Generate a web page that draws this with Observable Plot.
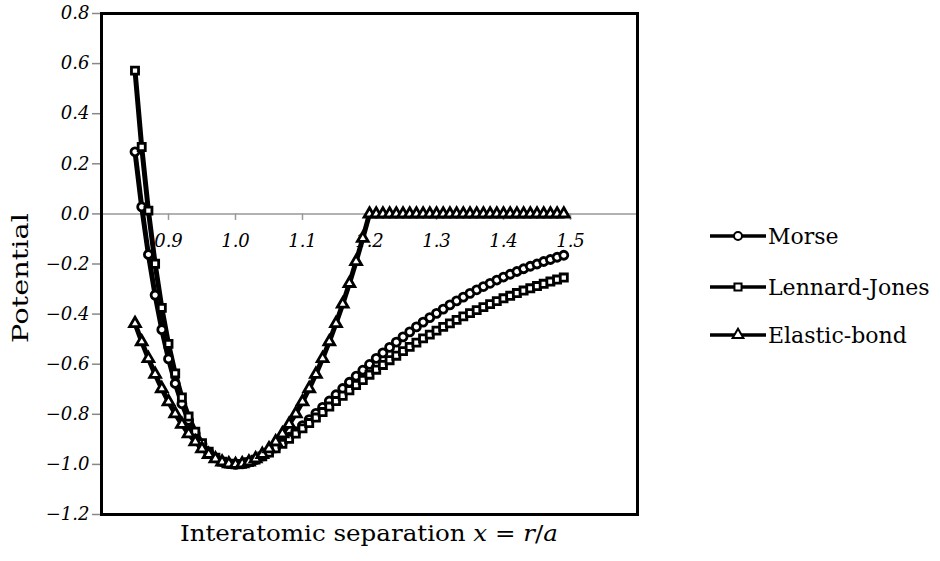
<!DOCTYPE html>
<html><head><meta charset="utf-8">
<script src="https://cdn.jsdelivr.net/npm/d3@7"></script>
<script src="https://cdn.jsdelivr.net/npm/@observablehq/plot@0.6"></script>
<style>body{margin:0;background:#fff} svg text{font-family:"DejaVu Serif", serif;}</style>
</head><body><div id="chart"></div>
<script>
const xValues = [0.85,0.86,0.87,0.88,0.89,0.90,0.91,0.92,0.93,0.94,0.95,0.96,0.97,0.98,0.99,1.00,
  1.01,1.02,1.03,1.04,1.05,1.06,1.07,1.08,1.09,1.10,1.11,1.12,1.13,1.14,1.15,1.16,1.17,1.18,1.19,1.20,
  1.21,1.22,1.23,1.24,1.25,1.26,1.27,1.28,1.29,1.30,1.31,1.32,1.33,1.34,1.35,1.36,1.37,1.38,1.39,1.40,
  1.41,1.42,1.43,1.44,1.45,1.46,1.47,1.48,1.49];
const morse = [0.248,0.028,-0.162,-0.324,-0.462,-0.579,-0.677,-0.758,-0.824,-0.878,-0.919,-0.951,-0.974,-0.989,-0.997,-1.000,
  -0.998,-0.991,-0.981,-0.967,-0.951,-0.933,-0.913,-0.891,-0.869,-0.845,-0.821,-0.796,-0.772,-0.747,-0.722,
  -0.697,-0.672,-0.648,-0.624,-0.601,-0.577,-0.555,-0.533,-0.512,-0.491,-0.471,-0.451,-0.432,-0.414,-0.397,
  -0.380,-0.363,-0.347,-0.332,-0.317,-0.303,-0.290,-0.277,-0.264,-0.252,-0.241,-0.230,-0.219,-0.209,-0.200,
  -0.190,-0.182,-0.173,-0.165];
const lennardJones = [0.572,0.267,0.013,-0.199,-0.375,-0.519,-0.637,-0.733,-0.809,-0.869,-0.915,-0.949,-0.973,-0.989,-0.997,-1.000,
  -0.998,-0.991,-0.981,-0.968,-0.953,-0.936,-0.918,-0.898,-0.877,-0.856,-0.835,-0.813,-0.791,-0.769,-0.747,
  -0.726,-0.704,-0.683,-0.663,-0.642,-0.622,-0.603,-0.584,-0.566,-0.548,-0.531,-0.514,-0.497,-0.482,-0.466,
  -0.451,-0.437,-0.423,-0.409,-0.396,-0.384,-0.372,-0.360,-0.348,-0.337,-0.327,-0.316,-0.306,-0.297,-0.288,
  -0.279,-0.270,-0.262,-0.254];
const elasticBond = [-0.4375,-0.51,-0.5775,-0.64,-0.6975,-0.75,-0.7975,-0.84,-0.8775,-0.91,-0.9375,-0.96,-0.9775,-0.99,-0.9975,-1,
  -0.9975,-0.99,-0.9775,-0.96,-0.9375,-0.91,-0.8775,-0.84,-0.7975,-0.75,-0.6975,-0.64,-0.5775,-0.51,-0.4375,
  -0.36,-0.2775,-0.19,-0.0975,0,
  0,0,0,0,0,0,0,0,0,0,0,0,0,0,0,0,0,0,0,0,0,0,0,0,0,0,0,0,0];
const seriesNames = ["Morse","Lennard-Jones","Elastic-bond"];
const seriesSymbols = ["circle","square","triangle"];
const xTickValues = [0.9,1.0,1.1,1.2,1.3,1.4,1.5];
const yTickValues = [-1.2,-1.0,-0.8,-0.6,-0.4,-0.2,0.0,0.2,0.4,0.6,0.8];
const xTitle = ["Interatomic separation ", "x", " = ", "r", "/", "a"];
const yTitle = "Potential";

const seriesData = [morse, lennardJones, elasticBond];
const rows = [];
seriesData.forEach((arr, k) => arr.forEach((v, i) => rows.push({x: xValues[i], y: v, series: seriesNames[k]})));

const FONT = "DejaVu Serif";
const fmt = d3.format(".1f");

const chart = Plot.plot({
  width: 940, height: 561,
  marginLeft: 101, marginRight: 303, marginTop: 13, marginBottom: 47,
  style: {fontFamily: FONT, background: "white", overflow: "visible"},
  x: {domain: [0.8, 1.6], axis: null},
  y: {domain: [-1.2, 0.8], axis: null},
  symbol: {domain: seriesNames, range: seriesSymbols},
  marks: [
    Plot.axisY(yTickValues, {tickSize: 9, tickPadding: 3, stroke: "#888", strokeWidth: 1.5, fill: "black",
      tickFormat: fmt, fontSize: 18, fontStyle: "italic", fontFamily: FONT, label: null}),
    Plot.ruleY([0], {stroke: "#999", strokeWidth: 1.5}),
    Plot.ruleX(xTickValues, {x: d => d, y1: 0, y2: -0.026, stroke: "#999", strokeWidth: 1.5}),
    Plot.text(xTickValues, {x: d => d, y: () => 0, text: d => fmt(d), dy: 27, fontSize: 18, fontStyle: "italic", fontFamily: FONT, fill: "black"}),
    Plot.line(rows, {x: "x", y: "y", z: "series", stroke: "black", strokeWidth: 5}),
    Plot.dot(rows, {x: "x", y: "y", symbol: "series", r: 4, fill: "white", stroke: "black", strokeWidth: 2.8}),
    Plot.frame({stroke: "black", strokeWidth: 3})
  ]
});

const svg = d3.select(chart);
// axis titles
const xt = svg.append("text").attr("x", 369).attr("y", 541).attr("text-anchor", "middle")
  .attr("font-family", FONT).attr("font-size", 22).attr("fill", "black")
  .attr("textLength", 378).attr("lengthAdjust", "spacingAndGlyphs");
xTitle.forEach((s, i) => xt.append("tspan").attr("font-style", (i === 1 || i === 3 || i === 5) ? "italic" : "normal").text(s));
svg.append("text").attr("transform", "translate(28,278) rotate(-90)").attr("text-anchor", "middle")
  .attr("font-family", FONT).attr("font-size", 23).attr("fill", "black")
  .attr("textLength", 130).attr("lengthAdjust", "spacingAndGlyphs").text(yTitle);

// legend
const legendY = [236, 287, 335];
seriesNames.forEach((name, k) => {
  const g = svg.append("g").attr("transform", `translate(0,${legendY[k]})`);
  g.append("line").attr("x1", 710).attr("x2", 766).attr("y1", 0).attr("y2", 0).attr("stroke", "black").attr("stroke-width", 3.5);
  const sym = [d3.symbolCircle, d3.symbolSquare, d3.symbolTriangle][k];
  g.append("path").attr("d", d3.symbol(sym, Math.PI * 4 * 4)()).attr("transform", "translate(738,0)")
    .attr("fill", "white").attr("stroke", "black").attr("stroke-width", 2);
  g.append("text").attr("x", 768).attr("y", 0).attr("dy", "0.35em").attr("text-anchor", "start")
    .attr("font-family", FONT).attr("font-size", 22).attr("fill", "black").text(name);
});

document.getElementById("chart").appendChild(chart);
</script>
</body></html>
